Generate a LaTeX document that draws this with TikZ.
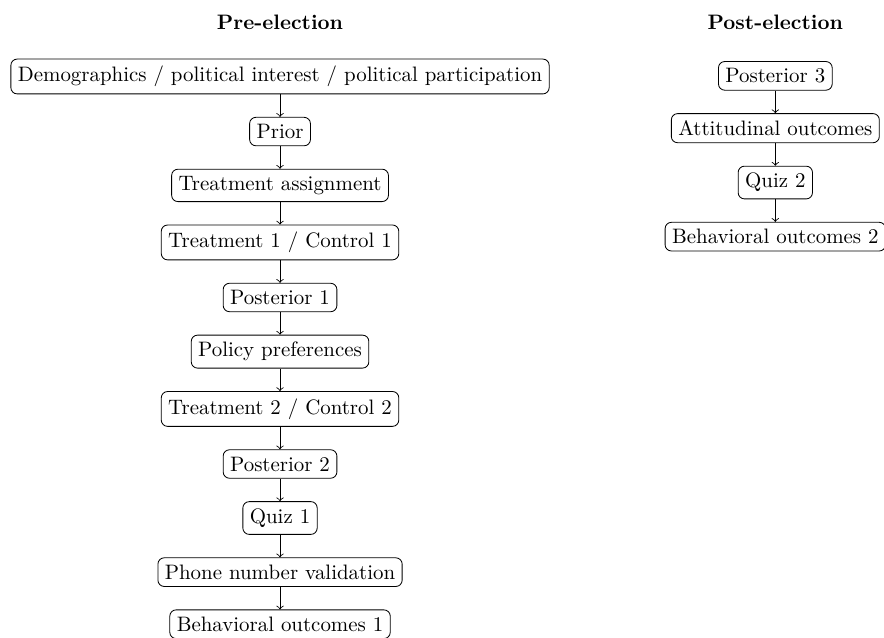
\documentclass[tikz,border=0pt]{standalone}
\usepackage{amsmath}
\usepackage{amssymb}
\usetikzlibrary{positioning}

\begin{document}
\begin{tikzpicture}[node distance=0.38cm]
        \tikzstyle{stage}=[draw, rounded corners=3pt]
        \tikzstyle{every path}+=[->]
        \useasboundingbox (-134pt,36.6pt) rectangle (289pt,-268.4pt);
        % pre-election
        \node[stage] (demo) at (0,0) {Demographics / political interest / political participation};
        \node[stage, below=of demo] (prior) {Prior};
        \node[stage, below=of prior] (assign) {Treatment assignment};
        \node[stage, below=of assign] (treat1) {Treatment 1 / Control 1};
        \node[stage, below=of treat1] (post1) {Posterior 1};
        \node[stage, below=of post1] (policy) {Policy preferences};
        \node[stage, below=of policy] (treat2) {Treatment 2 / Control 2};
        \node[stage, below=of treat2] (post2) {Posterior 2};
        \node[stage, below=of post2] (quiz1) {Quiz 1};
        \node[stage, below=of quiz1] (phone) {Phone number validation};
        \node[stage, below=of phone] (behav1) {Behavioral outcomes 1};
        \node[font=\bfseries] (pre) at (0,26pt) {Pre-election};
        % post-election
        \node[stage] (post3) at (237pt,0.3pt) {Posterior 3};
        \node[stage, below=of post3] (attit) {Attitudinal outcomes};
        \node[stage, below=of attit] (quiz2) {Quiz 2};
        \node[stage, below=of quiz2] (behav2) {Behavioral outcomes 2};
        \node[font=\bfseries] (postel) at (237pt,26pt) {Post-election};
        % arrows
        \foreach \a/\b in {demo/prior, prior/assign, assign/treat1, treat1/post1, post1/policy, policy/treat2, treat2/post2, post2/quiz1, quiz1/phone, phone/behav1, post3/attit, attit/quiz2, quiz2/behav2}
            \draw (\a) -- (\b);
\end{tikzpicture}
\end{document}
